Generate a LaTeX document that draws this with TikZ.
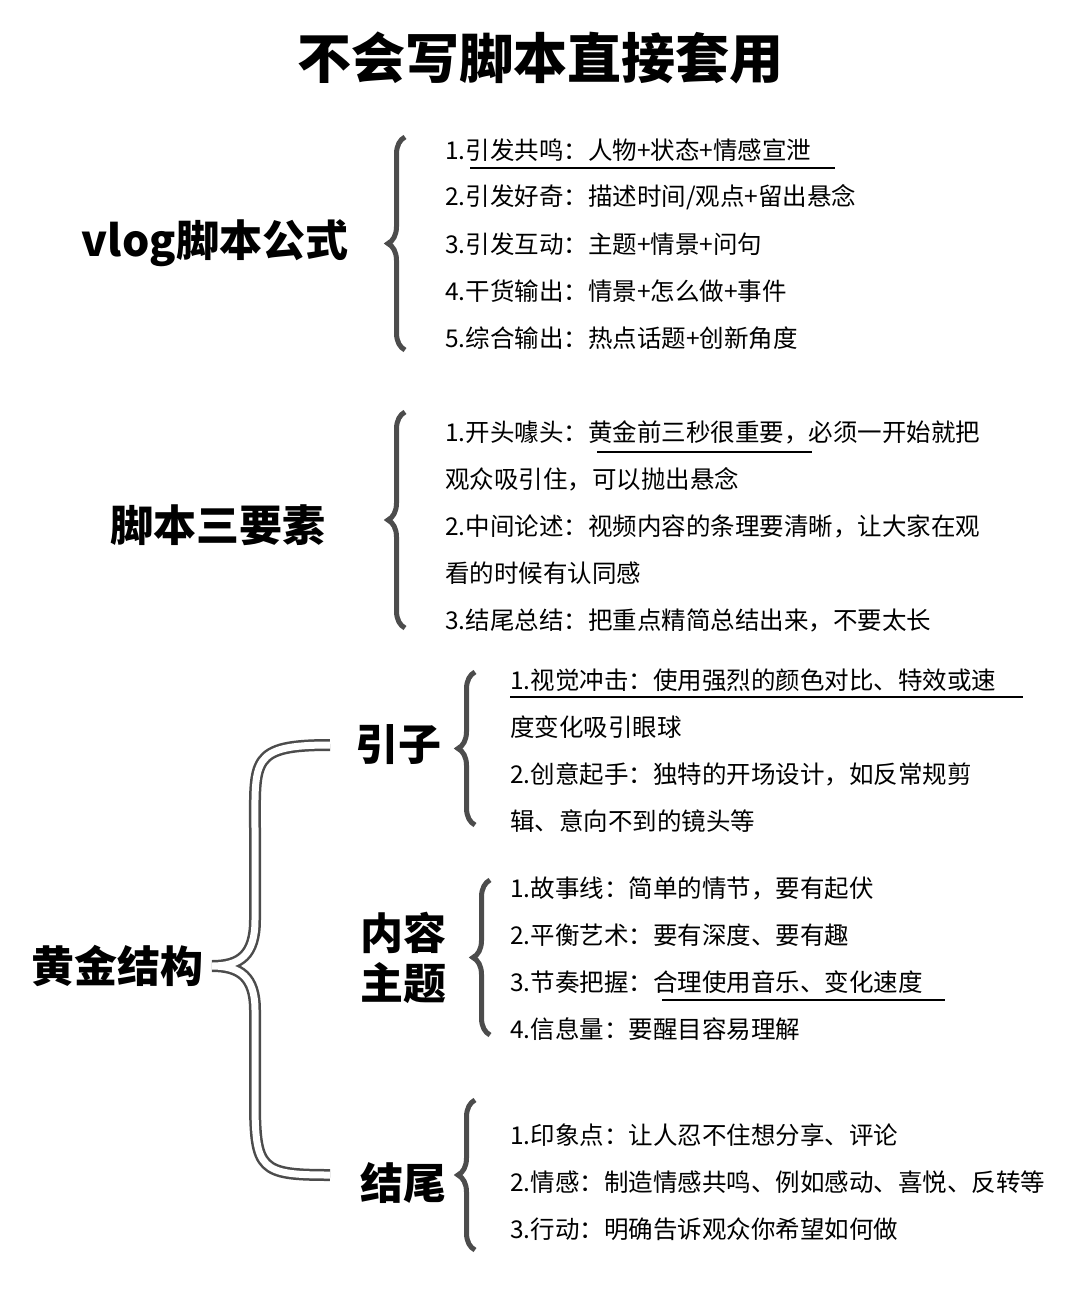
\documentclass[tikz,border=0pt]{standalone}
\usepackage{fontspec}
\setmainfont{Noto Sans CJK SC}
\usetikzlibrary{decorations.pathreplacing}
\begin{document}
\begin{tikzpicture}[x=1pt,y=-1pt,
  item/.style={anchor=west,inner sep=0pt,font=\fontsize{24.5}{28}\selectfont},
  head/.style={inner sep=0pt,font=\fontsize{43}{50}\selectfont\bfseries,align=center},
  brc/.style={decorate,decoration={brace,amplitude=17pt},line width=5pt,draw=black!70},
  ul/.style={line width=1.5pt}]
\useasboundingbox (0,0) rectangle (1080,1294);
\node[head,font=\fontsize{54}{60}\selectfont\bfseries] (title) at (540,58) {不会写脚本直接套用};
% section 1
\node[head] (s1) at (215,243) {vlog脚本公式};
\draw[brc] (405,350) -- (405,137);
\foreach \t [count=\i] in {1.引发共鸣：人物+状态+情感宣泄,2.引发好奇：描述时间/观点+留出悬念,3.引发互动：主题+情景+问句,4.干货输出：情景+怎么做+事件,5.综合输出：热点话题+创新角度}
  \node[item] (a\i) at (445,103+47*\i) {\t};
\draw[ul] (470,168) -- (835,168);
% section 2
\node[head] (s2) at (218,525) {脚本三要素};
\draw[brc] (405,628) -- (405,412);
\foreach \t [count=\i] in {1.开头噱头：黄金前三秒很重要，必须一开始就把,观众吸引住，可以抛出悬念,2.中间论述：视频内容的条理要清晰，让大家在观,看的时候有认同感,3.结尾总结：把重点精简总结出来，不要太长}
  \node[item] (b\i) at (445,385+47*\i) {\t};
\draw[ul] (597,452) -- (812,452);
% section 3
\node[head] (s3) at (117,966) {黄金结构};
\draw[line width=2.5pt,double=white,double distance=7pt,draw=black!70]
  (330,745) .. controls (250,745) and (255,760) .. (255,830) -- (255,920)
  .. controls (255,955) and (240,966) .. (212,966)
  .. controls (240,966) and (255,977) .. (255,1010) -- (255,1100)
  .. controls (255,1170) and (260,1175) .. (330,1175);
\node[head] (c1) at (398,745) {引子};
\draw[brc] (475,825) -- (475,672);
\foreach \t [count=\i] in {1.视觉冲击：使用强烈的颜色对比、特效或速,度变化吸引眼球,2.创意起手：独特的开场设计，如反常规剪,辑、意向不到的镜头等}
  \node[item] (d\i) at (510,633+47*\i) {\t};
\draw[ul] (510,697) -- (1023,697);
\node[head] (c2) at (403,958) {内容\\主题};
\draw[brc] (490,1035) -- (490,880);
\foreach \t [count=\i] in {1.故事线：简单的情节，要有起伏,2.平衡艺术：要有深度、要有趣,3.节奏把握：合理使用音乐、变化速度,4.信息量：要醒目容易理解}
  \node[item] (e\i) at (510,841+47*\i) {\t};
\draw[ul] (662,1000) -- (945,1000);
\node[head] (c3) at (403,1183) {结尾};
\draw[brc] (475,1250) -- (475,1100);
\foreach \t [count=\i] in {1.印象点：让人忍不住想分享、评论,2.情感：制造情感共鸣、例如感动、喜悦、反转等,3.行动：明确告诉观众你希望如何做}
  \node[item] (f\i) at (510,1088+47*\i) {\t};
\end{tikzpicture}
\end{document}
